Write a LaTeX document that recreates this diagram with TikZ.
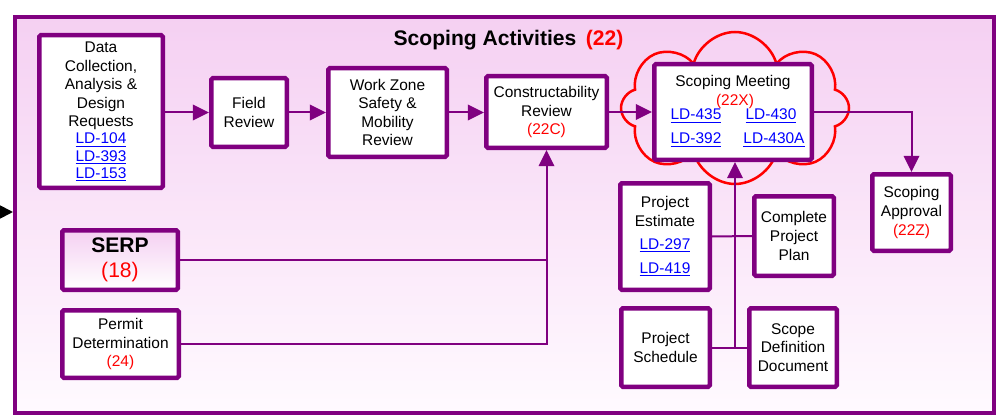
\documentclass[tikz,border=0pt]{standalone}
\usepackage{fontspec}
\setmainfont{Liberation Sans}
\usetikzlibrary{arrows.meta,shapes.symbols}
\definecolor{pur}{RGB}{128,0,128}
\definecolor{lnkc}{RGB}{0,0,255}
\definecolor{rd}{RGB}{255,0,0}
\definecolor{pinktop}{RGB}{245,208,242}
\definecolor{pinkbot}{RGB}{255,250,255}
\newcommand\ldlink[1]{\textcolor{lnkc}{\underline{#1}}}
\newlength\pxu \setlength\pxu{0.025cm}
\begin{document}
\begin{tikzpicture}[x=0.025cm,y=-0.025cm,
 box/.style={draw=pur, line width=4.5\pxu, fill=white, rounded corners=1.5\pxu, align=center, inner sep=0pt, font=\fontsize{11}{13.2}\selectfont, text=black},
 conn/.style={draw=pur, line width=2\pxu},
 arr/.style={conn, -{Triangle[length=11.5pt,width=11pt]}},
 lbl/.style={inner sep=0pt, font=\fontsize{11}{13.2}\selectfont},
]
\useasboundingbox (0,0) rectangle (1000,420);
% frame
\node[draw=pur, line width=4\pxu, top color=pinktop, bottom color=pinkbot, minimum width=979\pxu, minimum height=396\pxu, inner sep=0pt] (frame) at (504.5,215) {};
\node[inner sep=0pt, font=\fontsize{15}{17}\bfseries\selectfont] (title) at (508.5,40) {Scoping Activities\hspace{0.45em}\textcolor{rd}{(22)}};
% cloud
\node[cloud, draw=rd, line width=2.5\pxu, cloud puffs=8, cloud ignores aspect, minimum width=228\pxu, minimum height=152\pxu, inner sep=0pt] (cloud) at (735,108) {};
% boxes
\node[box, minimum width=123.5\pxu, minimum height=152.5\pxu] (data) at (101,111.5) {Data\\Collection,\\Analysis \&\\Design\\Requests\\[-1pt]\ldlink{LD-104}\\[-1pt]\ldlink{LD-393}\\[-1pt]\ldlink{LD-153}};
\node[box, minimum width=75.5\pxu, minimum height=68.5\pxu] (field) at (249,112.5) {Field\\Review};
\node[box, minimum width=118.5\pxu, minimum height=88.5\pxu] (work) at (387.5,112.5) {Work Zone\\Safety \&\\Mobility\\Review};
\node[box, minimum width=120.5\pxu, minimum height=71.5\pxu] (constr) at (546.5,112) {Constructability\\Review\\\textcolor{rd}{(22C)}};
\node[box, minimum width=157.5\pxu, minimum height=95.5\pxu] (meeting) at (733,112) {};
\node[lbl] (mtitle) at (733,83) {Scoping Meeting};
\node[lbl, text=rd] (mnum) at (735,101) {(22X)};
\node[lbl] (m1) at (696,116) {\ldlink{LD-435}};
\node[lbl] (m2) at (771,116) {\ldlink{LD-430}};
\node[lbl] (m3) at (696,140) {\ldlink{LD-392}};
\node[lbl] (m4) at (774,140) {\ldlink{LD-430A}};
\node[box, minimum width=78.5\pxu, minimum height=76.5\pxu] (approval) at (911.5,212.5) {Scoping\\Approval\\\textcolor{rd}{(22Z)}};
\node[box, minimum width=89.5\pxu, minimum height=106.5\pxu] (estimate) at (665,236.5) {Project\\Estimate\\[3pt]\ldlink{LD-297}\\[4pt]\ldlink{LD-419}};
\node[box, minimum width=79.5\pxu, minimum height=79.5\pxu] (plan) at (794,236) {Complete\\Project\\Plan};
\node[box, minimum width=88.5\pxu, minimum height=78.5\pxu] (schedule) at (665.5,347.5) {Project\\Schedule};
\node[box, minimum width=87.5\pxu, minimum height=78.5\pxu] (scopedef) at (793,347.5) {Scope\\Definition\\Document};
\node[box, top color=pinktop, bottom color=white, minimum width=115.5\pxu, minimum height=59.5\pxu, font=\fontsize{15}{18}\selectfont] (serp) at (120,260) {\textbf{SERP}\\\textcolor{rd}{(18)}};
\node[box, minimum width=116.5\pxu, minimum height=67.5\pxu] (permit) at (120.5,344) {Permit\\Determination\\\textcolor{rd}{(24)}};
% connectors
\draw[arr] (data.east |- field.west) -- (field.west);
\draw[arr] (field.east) -- (work.west);
\draw[arr] (work.east) -- (constr.west |- work.east);
\draw[arr] (constr.east) -- (meeting.west);
\draw[arr] (meeting.east) -| (approval.north);
\draw[conn] (serp.east) -- (serp.east -| constr.south);
\draw[arr] (permit.east) -| (constr.south);
\draw[conn] (estimate.east) -- (plan.west);
\draw[conn] (schedule.east) -- (scopedef.west);
\coordinate (jn) at (735,347.5);
\draw[arr] (jn) -- (jn |- meeting.south);
\coordinate (inl) at (0,212);
\draw[line width=1.4pt, -{Triangle[length=10pt,width=10pt]}] (inl) -- (frame.west |- inl);
\end{tikzpicture}
\end{document}
